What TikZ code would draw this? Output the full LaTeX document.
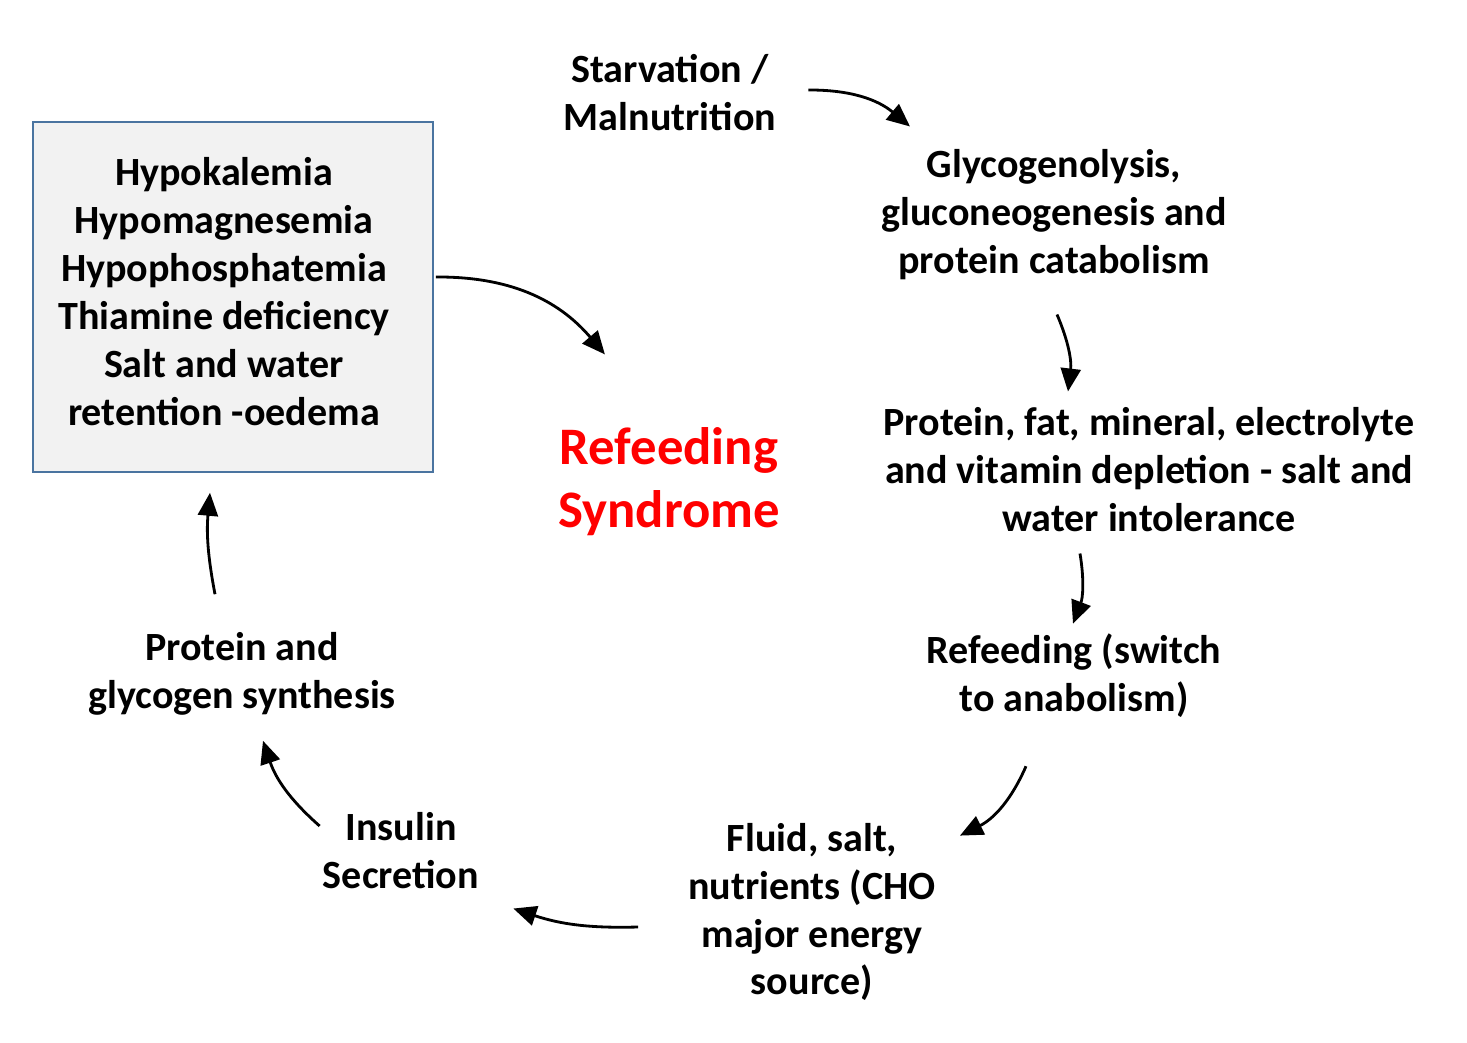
\documentclass[tikz,border=0pt]{standalone}
\usepackage{fontspec}
\setmainfont{Carlito}
\usepackage{tikz}
\usetikzlibrary{arrows.meta,calc,positioning}

\definecolor{boxfill}{HTML}{F2F2F2}
\definecolor{boxline}{HTML}{4A74A0}
\definecolor{titlered}{HTML}{FF0000}

\begin{document}
\begin{tikzpicture}[
		x=0.02cm, y=-0.02cm,
		txt/.style={align=center, inner sep=0pt, font=\bfseries\fontsize{22.8}{27.3}\selectfont},
		sbox/.style={draw=boxline, line width=0.9pt, fill=boxfill, minimum width=8cm, minimum height=7cm},
		arr/.style={-{Triangle[length=4.6mm,width=4mm]}, line width=1.6pt, bend left=#1},
		arr/.default=15
	]
	\useasboundingbox (0,0) rectangle (1467,1043);

	\node[txt] (starv) at (670,93) {Starvation /\\ Malnutrition};
	\node[txt] (glyco) at (1054,215) {Glycogenolysis,\\ gluconeogenesis and\\ protein catabolism};
	\node[txt] (depl) at (1149,470) {Protein, fat, mineral, electrolyte\\ and vitamin depletion - salt and\\ water intolerance};
	\node[txt] (refeed) at (1074,676) {Refeeding (switch\\ to anabolism)};
	\node[txt] (fluid) at (812,912) {Fluid, salt,\\ nutrients (CHO\\ major energy\\ source)};
	\node[txt] (ins) at (401,851) {Insulin\\ Secretion};
	\node[txt] (synth) at (242,674) {Protein and\\ glycogen synthesis};
	\node[sbox] (defic) at (233,297) {};
	\node[txt] (deflist) at (224,292) {Hypokalemia\\ Hypomagnesemia\\ Hypophosphatemia\\ Thiamine deficiency\\ Salt and water\\ retention -oedema};
	\node[txt, text=titlered, font=\bfseries\fontsize{30}{36}\selectfont] (title) at (669,482) {Refeeding\\ Syndrome};

	\draw[arr=20] ($(starv.east)+(32,-3)$) to ($(glyco.north)+(-144,-23)$);
	\draw[arr] ($(glyco.south)+(3,34)$) to ($(depl.north)+(-81,-16)$);
	\draw[arr] ($(depl.south)+(-69,21)$) to ($(refeed.north)+(-1,-10)$);
	\draw[arr=20] ($(refeed.south)+(-48,48)$) to ($(fluid.north east)+(24,13)$);
	\draw[arr=10] ($(fluid.west)+(-50,15)$) to ($(ins.south east)+(34,19)$);
	\draw[arr] ($(ins.west)+(-3,-25)$) to ($(synth.south)+(21,25)$);
	\draw[arr=8] ($(synth.north)+(-27,-38)$) to ($(defic.south)+(-23,20)$);
	\draw[arr=25] ($(defic.east)+(2,-20)$) to ($(title.north west)+(47,-73)$);
\end{tikzpicture}
\end{document}
